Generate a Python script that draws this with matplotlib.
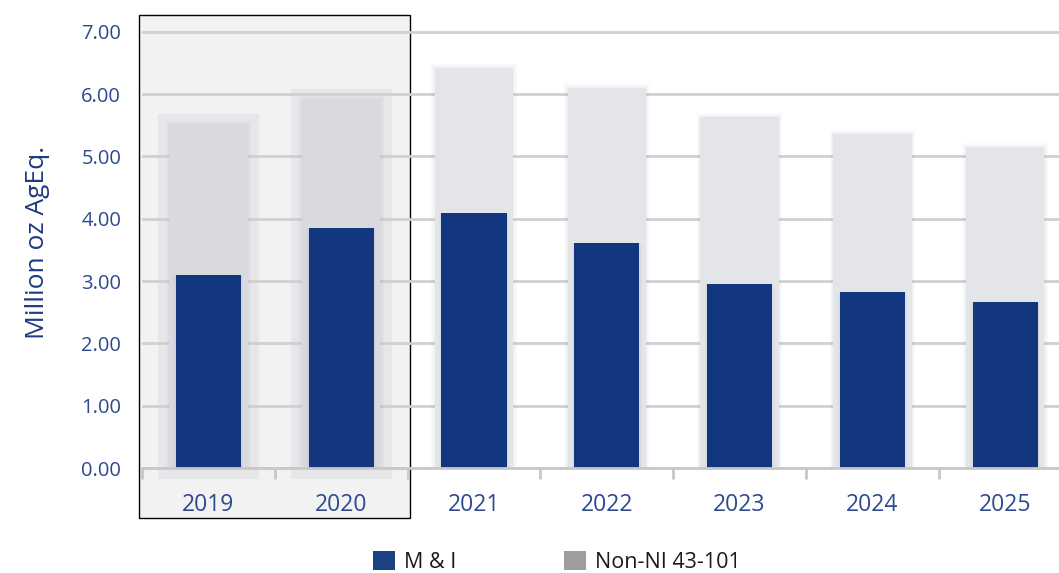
import numpy as np
import matplotlib.pyplot as plt
from matplotlib.patches import Rectangle, Patch

years = ["2019", "2020", "2021", "2022", "2023", "2024", "2025"]
m_and_i = [3.10, 3.85, 4.09, 3.61, 2.95, 2.82, 2.66]
total = [5.51, 5.91, 6.42, 6.10, 5.63, 5.36, 5.15]
actual_years = ["2019", "2020"]  # highlighted block
y_ticks = [0, 1, 2, 3, 4, 5, 6, 7]

blue = "#13377f"
label_blue = "#2d4a8e"

plt.rcParams['font.family'] = ['Open Sans', 'DejaVu Sans']

fig = plt.figure(figsize=(10.59, 5.73), dpi=100)
ax = fig.add_axes([142 / 1059, 105 / 573, 917 / 1059, 455 / 573])

x = np.arange(len(years))

ax.set_yticks(y_ticks)
ax.set_yticklabels([f"{v:.2f}" for v in y_ticks])
ax.set_xticks(x)
ax.set_xticklabels(years)
ax.set_xticks(np.arange(-0.5, len(years), 1), minor=True)
# limits after ticks, otherwise set_xticks widens the view
ax.set_xlim(-0.5, 6.405)
ax.set_ylim(0, 7.3)

# px -> data helpers for the soft shadows
px_x = 1 / 132.8
px_y = 1 / 62.3

# shaded box behind the actual years
n_act = len(actual_years)
ax.add_patch(Rectangle((-0.523, -50 * px_y), n_act + 0.041, 7.27 + 50 * px_y,
                       facecolor="#f2f2f2", edgecolor="black", lw=1.0,
                       clip_on=False, zorder=0.1))

for i in range(len(years)):
    if i < n_act:
        # lighter halo behind actual bars
        ax.add_patch(Rectangle((x[i] - 0.38, -0.17), 0.76, total[i] + 0.34,
                               facecolor="#e7e7ea", edgecolor="none",
                               clip_on=False, zorder=0.2))
    # soft shadow around the grey bar
    for k in range(1, 4):
        d = k * 1.2
        ax.add_patch(Rectangle((x[i] - 0.295 - d * px_x, 0),
                               0.59 + 2 * d * px_x, total[i] + d * px_y,
                               facecolor="#9aa0bc", edgecolor="none",
                               alpha=0.05, zorder=1))

ax.bar(x, total, width=0.59, color=["#d9dadf" if i < n_act else "#e4e5e9"
                                      for i in range(len(years))], zorder=2)
# small shadow under the blue bars
for k in range(1, 3):
    d = k * 1.2
    ax.bar(x, np.array(m_and_i) + d * px_y, width=0.49 + 2 * d * px_x,
           bottom=-d * px_y, color="#8a90b0", alpha=0.06, zorder=2.5)
ax.bar(x, m_and_i, width=0.49, color=blue, zorder=3)

ax.grid(axis="y", color="#d0d0d0", lw=2)
ax.set_axisbelow(True)

for s in ["left", "right", "top"]:
    ax.spines[s].set_visible(False)
ax.spines["bottom"].set_color("#c8c8c8")
ax.spines["bottom"].set_linewidth(2)
ax.spines["bottom"].set_zorder(3.5)

ax.tick_params(axis="y", length=0, pad=15, labelsize=14.5, labelcolor=label_blue)
ax.tick_params(axis="x", which="major", length=0, pad=18, labelsize=16.5,
               labelcolor=label_blue)
ax.tick_params(axis="x", which="minor", length=8, width=2, color="#c8c8c8")

fig.text(38 / 1059, 1 - 242 / 573, "Million oz AgEq.", rotation=90,
         ha="center", va="center", fontsize=19, color="#1f3a80")

handles = [Patch(facecolor="#1c4282"), Patch(facecolor="#9e9e9e")]
fig.legend(handles, ["M & I", "Non-NI 43-101"], loc="lower left",
           bbox_to_anchor=(373 / 1059, 0), ncol=2, frameon=False,
           fontsize=15.5, handlelength=1.0, handleheight=1.0,
           handletextpad=0.45, columnspacing=5.0, borderaxespad=0.0,
           borderpad=0.0, labelcolor="#1a1a1a")

fig.savefig("out.png", dpi=100)
